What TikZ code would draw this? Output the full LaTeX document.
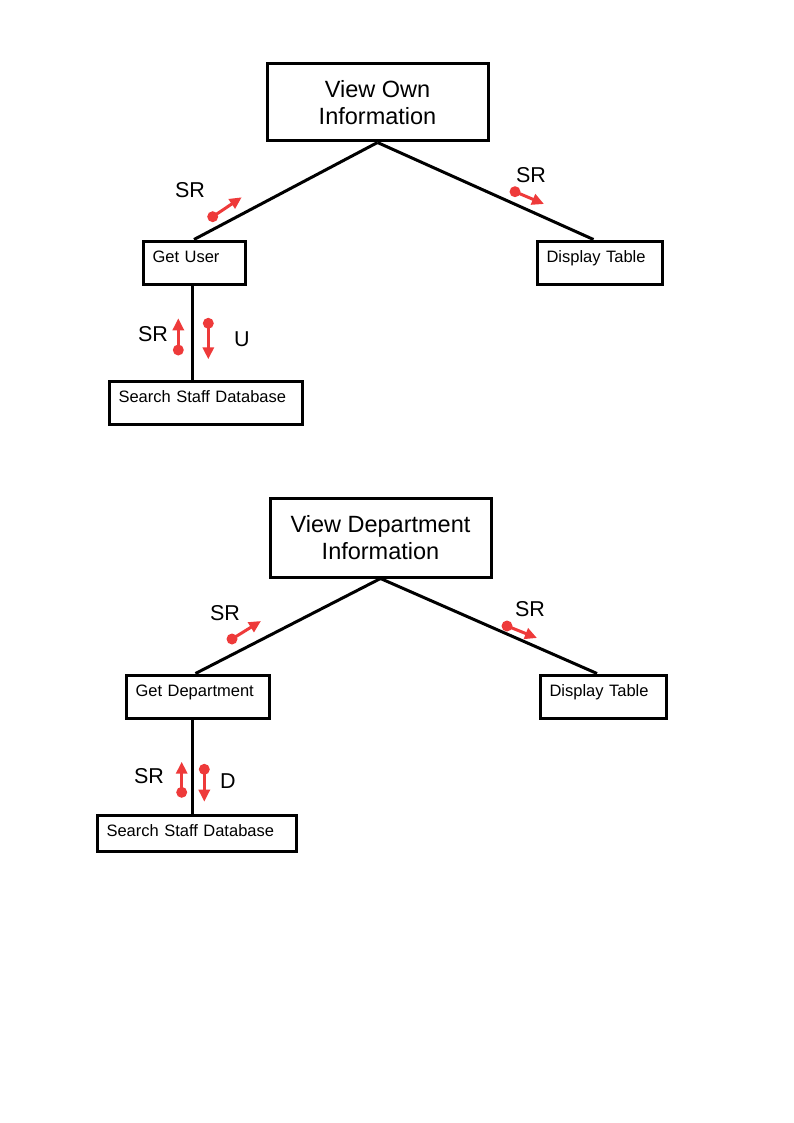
\documentclass[tikz,border=0pt]{standalone}
\usepackage{fontspec}
\setmainfont{Liberation Sans}
\usetikzlibrary{arrows.meta}
\definecolor{flowred}{RGB}{238,58,58}
\tikzstyle{module}=[draw,line width=3pt,anchor=north west,inner sep=0pt,align=center,font=\fontsize{23.5}{27}\selectfont]
\tikzstyle{submodule}=[draw,line width=3pt,anchor=north west,inner xsep=9.5pt,inner ysep=0pt,align=left,text height=11pt,text depth=12pt,font=\fontsize{16.5}{19}\selectfont]
\tikzstyle{link}=[draw,line width=3pt]
\tikzstyle{couple}=[flowred,line width=3pt,-{Triangle[length=12pt,width=11pt]}]
\tikzstyle{dot}=[fill=flowred]
\tikzstyle{flag}=[font=\fontsize{21.5}{24}\selectfont]

\begin{document}
\begin{tikzpicture}[x=1pt,y=-1pt]
  \useasboundingbox (0,0) rectangle (794,1123);

  % First we draw the two top modules
  \node[module,minimum width=221pt,minimum height=77pt] (own) at (265.5,62.5) {View Own\\Information};
  \node[module,minimum width=221pt,minimum height=79pt] (dept) at (268.5,496.5) {View Department\\Information};

  % Then the called modules
  \foreach \pos/\name/\w/\tw/\txt in {{(141.5,239.5)/getuser/102/83/Get User},
      {(535.5,239.5)/dispown/125/106/Display Table},
      {(107.5,379.5)/searchown/193/174/Search Staff Database},
      {(124.5,673.5)/getdept/143/124/Get Department},
      {(538.5,673.5)/dispdept/126/107/Display Table}}
    \node[submodule,minimum width=\w pt,minimum height=43pt,text width=\tw pt] (\name) at \pos {\txt};
  \node[submodule,minimum width=199pt,minimum height=36pt,text width=180pt,text depth=5pt] (searchdept) at (95.5,813.5) {Search Staff Database};

  % Connect modules with calls
  \draw[link] (own.south) -- (getuser.north);
  \draw[link] (own.south) -- ([xshift=-6pt]dispown.north);
  \draw[link] ([xshift=-2pt]getuser.south) -- ([xshift=-2pt]getuser.south |- searchown.north);
  \draw[link] (dept.south) -- ([xshift=-2pt]getdept.north);
  \draw[link] (dept.south) -- ([xshift=-6pt]dispdept.north);
  \draw[link] ([xshift=-5pt]getdept.south) -- ([xshift=-5pt]getdept.south |- searchdept.north);

  % Data couples
  \foreach \from/\to in {{(212.7,216.7)/(241.7,197.3)}, {(515,191.7)/(544,204)},
      {(178.3,350)/(178.3,318.3)}, {(208.3,323.3)/(208.3,359.3)},
      {(232,639)/(261,621)}, {(507,626)/(537,638)},
      {(181.7,792.3)/(181.7,761.7)}, {(204.3,769.3)/(204.3,801.7)}}
  {
    \fill[dot] \from circle (5.5pt);
    \draw[couple] \from -- \to;
  }

  % Couple labels
  \foreach \pos/\name/\txt in {{(190,190)/srgetuser/SR}, {(531,175)/srdispown/SR},
      {(153,334)/srsearchown/SR}, {(242,339)/user/U},
      {(225,613)/srgetdept/SR}, {(530,609)/srdispdept/SR},
      {(149,776)/srsearchdept/SR}, {(228,781)/department/D}}
    \node[flag] (\name) at \pos {\txt};
\end{tikzpicture}
\end{document}
